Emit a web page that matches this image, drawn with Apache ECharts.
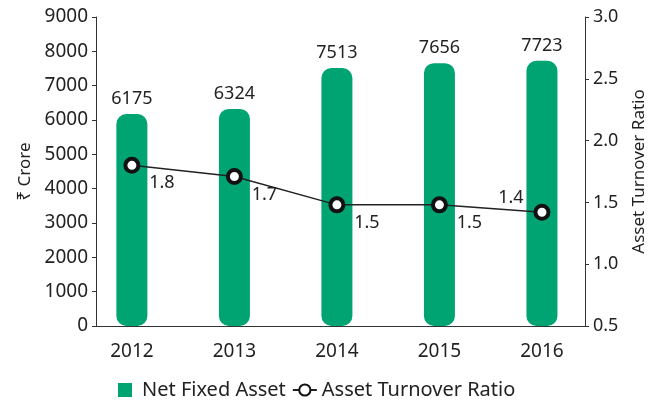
<!DOCTYPE html>
<html>
<head>
<meta charset="utf-8">
<script src="https://cdn.jsdelivr.net/npm/echarts@6/dist/echarts.min.js"></script>
<style>
  html, body { margin: 0; padding: 0; background: #fff; }
  #main { width: 659px; height: 407px; }
</style>
</head>
<body>
<div id="main"></div>
<script>
// chart data
var years = [2012, 2013, 2014, 2015, 2016];
var netFixedAsset = [6175, 6324, 7513, 7656, 7723];
var turnoverRatio = [1.8, 1.71, 1.48, 1.48, 1.42];
var leftTicks = [0, 9000, 1000];
var rightTicks = [0.5, 3.0, 0.5];

var green = '#00A372';
var font = 'Noto Sans';

var chart = echarts.init(document.getElementById('main'));

var lineData = turnoverRatio.map(function (v, i) {
  var item = { value: [years[i], v] };
  if (i === years.length - 1) {
    item.label = { offset: [-31, -14] };
  }
  return item;
});

var option = {
  animation: false,
  textStyle: { fontFamily: font },
  grid: { left: 96, right: 74, top: 17, bottom: 81 },
  legend: {
    bottom: 2,
    left: 113,
    itemGap: 6,
    itemWidth: 24,
    itemHeight: 14,
    textStyle: { fontSize: 20, color: '#222', fontFamily: font },
    data: [
      { name: 'Net Fixed Asset', icon: 'path://M0,0h14v14h-14z' },
      { name: 'Asset Turnover Ratio' }
    ]
  },
  xAxis: {
    type: 'value',
    min: 2011.65,
    max: 2016.42,
    splitLine: { show: false },
    axisLine: { lineStyle: { color: '#333', width: 1 } },
    axisTick: { show: false },
    axisLabel: {
      customValues: years,
      fontSize: 19,
      color: '#222',
      margin: 16,
      formatter: function (v) { return String(v); }
    }
  },
  yAxis: [
    {
      type: 'value',
      min: leftTicks[0],
      max: leftTicks[1],
      interval: leftTicks[2],
      name: '₹ Crore',
      nameLocation: 'middle',
      nameRotate: 90,
      nameGap: 62,
      nameTextStyle: { fontSize: 17, color: '#222', fontFamily: font },
      splitLine: { show: false },
      axisLine: { show: true, lineStyle: { color: '#333' } },
      axisTick: { show: true, length: 4, lineStyle: { color: '#333' } },
      axisLabel: {
        fontSize: 19, color: '#222', margin: 8,
        formatter: function (v) { return String(v); }
      }
    },
    {
      type: 'value',
      position: 'right',
      min: rightTicks[0],
      max: rightTicks[1],
      interval: rightTicks[2],
      name: 'Asset Turnover Ratio',
      nameLocation: 'middle',
      nameRotate: 90,
      nameGap: 46,
      nameTextStyle: { fontSize: 17, color: '#222', fontFamily: font },
      splitLine: { show: false },
      axisLine: { show: true, lineStyle: { color: '#333' } },
      axisTick: { show: true, length: 4, lineStyle: { color: '#333' } },
      axisLabel: {
        fontSize: 18, color: '#222', margin: 8,
        formatter: function (v) { return v.toFixed(1); }
      }
    }
  ],
  series: [
    {
      name: 'Net Fixed Asset',
      type: 'bar',
      yAxisIndex: 0,
      barWidth: 31,
      itemStyle: { color: green, borderRadius: 10 },
      label: {
        show: true,
        position: 'top',
        distance: 6,
        fontSize: 18,
        color: '#222',
        fontFamily: font
      },
      data: netFixedAsset.map(function (v, i) { return [years[i], v]; })
    },
    {
      name: 'Asset Turnover Ratio',
      type: 'line',
      yAxisIndex: 1,
      symbol: 'circle',
      symbolSize: 13,
      lineStyle: { color: '#222', width: 1.5 },
      itemStyle: { color: '#fff', borderColor: '#111', borderWidth: 4 },
      label: {
        show: true,
        position: 'inside',
        offset: [30, 18],
        fontSize: 18,
        color: '#222',
        fontFamily: font,
        formatter: function (p) { return p.value[1].toFixed(1); }
      },
      data: lineData
    }
  ]
};

chart.setOption(option);
</script>
</body>
</html>
